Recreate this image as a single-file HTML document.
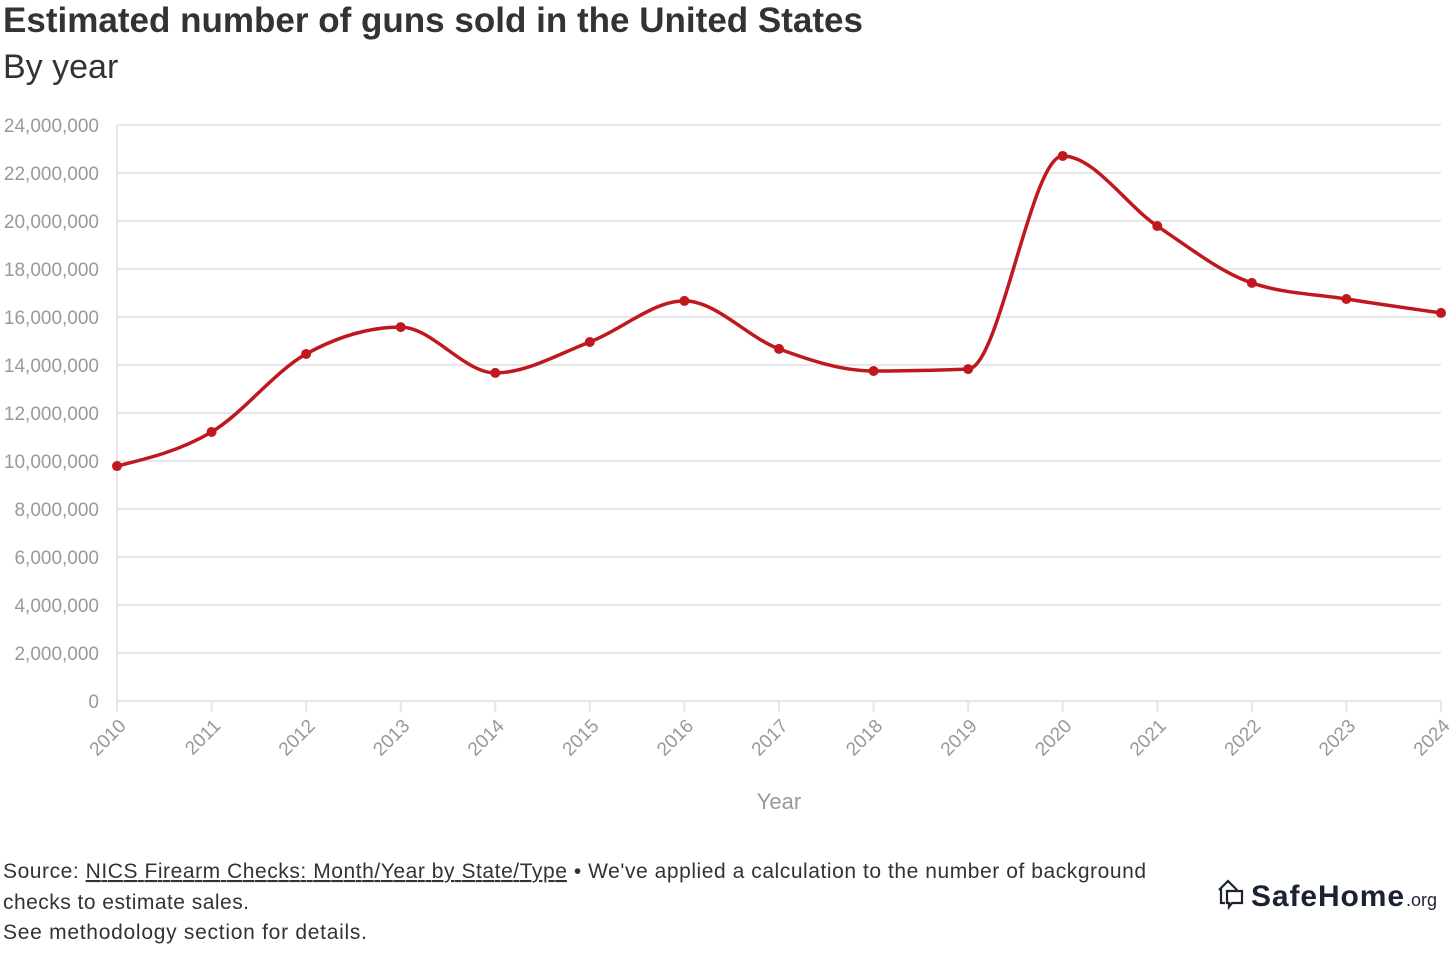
<!DOCTYPE html>
<html><head><meta charset="utf-8">
<style>
body{margin:0;background:#fff;width:1456px;height:950px;overflow:hidden;font-family:"Liberation Sans",sans-serif;}
</style></head>
<body>
<svg width="1456" height="950" xmlns="http://www.w3.org/2000/svg">
<text x="3" y="32" font-size="35" font-weight="bold" fill="#333" textLength="860">Estimated number of guns sold in the United States</text>
<text x="3" y="78" font-size="34" fill="#333">By year</text>
<g id="grid"></g>
<g id="xticks"></g>
<path id="line" fill="none" stroke="#c0181f" stroke-width="3.5"></path>
<g id="pts"></g>
<text x="779" y="809" font-size="22" fill="#999" text-anchor="middle">Year</text>
<text x="3" y="878" font-size="21" fill="#333" textLength="1143">Source: <tspan text-decoration="underline">NICS Firearm Checks: Month/Year by State/Type</tspan> • We've applied a calculation to the number of background</text>
<text x="3" y="909" font-size="21" fill="#333" textLength="246">checks to estimate sales.</text>
<text x="3" y="939" font-size="21" fill="#333" textLength="364">See methodology section for details.</text>
<g>
<path d="M1219 890 l9 -9 l9 9 M1221 888 v15 h4 M1227 891 h15 v12 h-10 l-3 4 v-4 h-2 z" fill="none" stroke="#1b2233" stroke-width="2.2"/>
<text x="1251" y="906" font-size="30" font-weight="bold" fill="#1b2233" textLength="153">SafeHome</text>
<text x="1406" y="906" font-size="18" fill="#1b2233">.org</text>
</g>
</svg>
<script>
const years=[2010,2011,2012,2013,2014,2015,2016,2017,2018,2019,2020,2021,2022,2023,2024];
const sales=[9790000,11210000,14460000,15580000,13670000,14960000,16670000,14670000,13750000,13830000,22710000,19790000,17420000,16750000,16170000];
const yTicks=[0,2000000,4000000,6000000,8000000,10000000,12000000,14000000,16000000,18000000,20000000,22000000,24000000];
const NS="http://www.w3.org/2000/svg";
const x=v=>117+(v-2010)*(1441-117)/14;
const y=v=>701-v*(701-125)/24000000;
function mk(t,a,p){const e=document.createElementNS(NS,t);for(const k in a)e.setAttribute(k,a[k]);p.appendChild(e);return e;}
const grid=document.getElementById('grid');
yTicks.forEach(v=>{
 const l=mk('line',{x1:117,x2:1441,y1:y(v),y2:y(v),stroke:'#e6e6e6','stroke-width':2},grid);
 
 
 const t=mk('text',{x:99,y:y(v)+7,'font-size':19,fill:'#999','text-anchor':'end'},grid);
 t.textContent=v.toLocaleString('en-US');
 
 
});
mk('line',{x1:117,x2:117,y1:125,y2:712,stroke:'#e6e6e6','stroke-width':2},grid);
const xt=document.getElementById('xticks');
years.forEach(v=>{
 mk('line',{x1:x(v),x2:x(v),y1:701,y2:712,stroke:'#e6e6e6','stroke-width':2},xt);
 const t=mk('text',{x:x(v)+10,y:727,'font-size':19,fill:'#999','text-anchor':'end',transform:`rotate(-45 ${x(v)+10} 727)`},xt);
 t.textContent=v;
 
 
});
const P=years.map((v,i)=>[x(v),y(sales[i])]);
const n=P.length,m=[],d=[];
for(let i=0;i<n-1;i++)d.push((P[i+1][1]-P[i][1])/(P[i+1][0]-P[i][0]));
for(let i=0;i<n;i++){
 if(i==0)m.push(d[0]);else if(i==n-1)m.push(d[n-2]);
 else{ if(d[i-1]*d[i]<=0)m.push(0);else{const h0=P[i][0]-P[i-1][0],h1=P[i+1][0]-P[i][0],p=(d[i-1]*h1+d[i]*h0)/(h0+h1);
 m.push((Math.sign(d[i-1])+Math.sign(d[i]))*Math.min(Math.abs(d[i-1]),Math.abs(d[i]),0.5*Math.abs(p)));}}
}
m[0]=(3*d[0]-m[1])/2;m[n-1]=(3*d[n-2]-m[n-2])/2;
let path=`M${P[0][0]},${P[0][1]}`;
for(let i=0;i<n-1;i++){const h=(P[i+1][0]-P[i][0])/3;
 path+=`C${P[i][0]+h},${P[i][1]+h*m[i]} ${P[i+1][0]-h},${P[i+1][1]-h*m[i+1]} ${P[i+1][0]},${P[i+1][1]}`;}
document.getElementById('line').setAttribute('d',path);
const pts=document.getElementById('pts');
P.forEach(p=>{const c=mk('circle',{cx:p[0],cy:p[1],r:5,fill:'#c0181f'},pts);
 
 });
</script>
</body></html>
